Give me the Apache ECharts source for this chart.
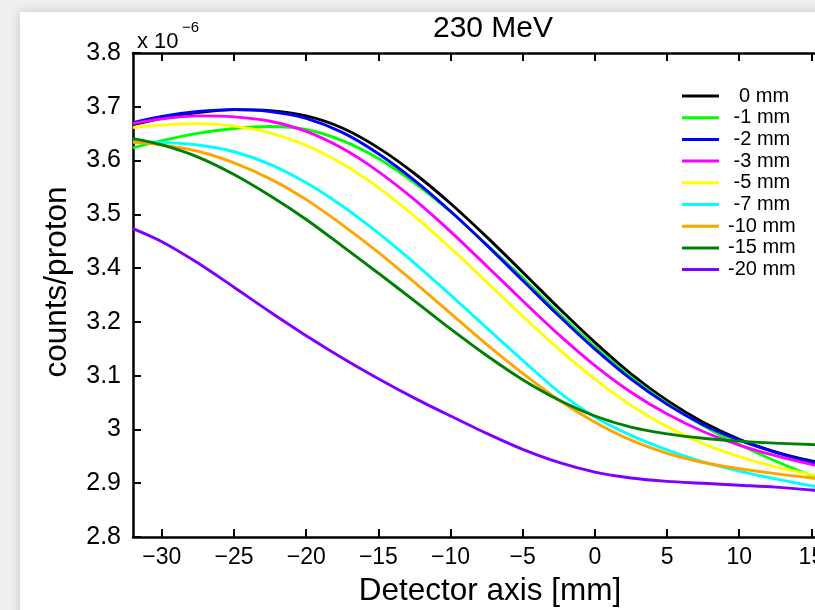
<!DOCTYPE html>
<html>
<head>
<meta charset="utf-8">
<script src="https://cdn.jsdelivr.net/npm/echarts@6/dist/echarts.min.js"></script>
<style>html,body{margin:0;padding:0;background:#efefef;overflow:hidden;width:815px;height:610px;}#c{width:880px;height:610px;}</style>
</head>
<body>
<div id="c"></div>
<script>
// Detector axis positions [mm]
const xValues = [-32, -30, -27.5, -25, -22.5, -20, -17.5, -15, -12.5, -10, -7.5, -5, -2.5, 0, 2.5, 5, 7.5, 10, 12.5, 15, 17.5];
// counts/proton (x 10^-6)
const s0mm   = [3.652,3.665,3.677,3.683,3.681,3.670,3.645,3.604,3.551,3.489,3.420,3.347,3.273,3.202,3.137,3.082,3.037,3.002,2.976,2.957,2.943];
const s1mm   = [3.604,3.619,3.634,3.644,3.648,3.642,3.619,3.582,3.532,3.472,3.404,3.335,3.262,3.193,3.130,3.076,3.030,2.991,2.957,2.927,2.902];
const s2mm   = [3.656,3.669,3.679,3.683,3.679,3.665,3.636,3.592,3.537,3.473,3.403,3.330,3.257,3.188,3.126,3.074,3.032,3.000,2.975,2.955,2.940];
const s3mm   = [3.654,3.664,3.670,3.668,3.659,3.638,3.603,3.555,3.497,3.431,3.360,3.288,3.218,3.154,3.099,3.054,3.018,2.990,2.968,2.950,2.935];
const s5mm   = [3.646,3.651,3.654,3.649,3.635,3.609,3.571,3.522,3.463,3.397,3.327,3.256,3.188,3.126,3.072,3.028,2.993,2.966,2.945,2.929,2.916];
const s7mm   = [3.616,3.615,3.610,3.596,3.570,3.532,3.484,3.428,3.366,3.300,3.232,3.165,3.100,3.048,3.010,2.980,2.955,2.936,2.920,2.906,2.895];
const s10mm  = [3.616,3.610,3.597,3.573,3.540,3.497,3.445,3.388,3.326,3.262,3.198,3.138,3.083,3.037,3.000,2.973,2.954,2.941,2.931,2.922,2.915];
const s15mm  = [3.623,3.610,3.585,3.549,3.505,3.456,3.401,3.345,3.288,3.230,3.175,3.125,3.083,3.050,3.027,3.013,3.004,2.998,2.994,2.991,2.989];
const s20mm  = [3.437,3.410,3.366,3.316,3.265,3.216,3.170,3.127,3.087,3.050,3.014,2.981,2.954,2.934,2.922,2.915,2.911,2.907,2.903,2.897,2.891];

const seriesNames = ['  0 mm', ' -1 mm', ' -2 mm', ' -3 mm', ' -5 mm', ' -7 mm', '-10 mm', '-15 mm', '-20 mm'];
const seriesValues = [s0mm, s1mm, s2mm, s3mm, s5mm, s7mm, s10mm, s15mm, s20mm];
const seriesColors = ['#000000', '#00ff00', '#0000ff', '#ff00ff', '#ffff00', '#00ffff', '#ffa500', '#008000', '#8000ff'];

const xTickValues = [-30, -25, -20, -15, -10, -5, 0, 5, 10, 15];
const yTickValues = [2.8, 2.9111, 3.0222, 3.1333, 3.2444, 3.3556, 3.4667, 3.5778, 3.6889, 3.8];
const yTickLabels = ['2.8', '2.9', '3', '3.1', '3.2', '3.4', '3.5', '3.6', '3.7', '3.8'];

const FONT = 'Liberation Sans, Arial, Helvetica, sans-serif';
const chart = echarts.init(document.getElementById('c'), null, {renderer: 'canvas'});

const series = seriesValues.map((vals, i) => ({
  name: seriesNames[i],
  type: 'line',
  xAxisIndex: 0,
  yAxisIndex: 0,
  data: xValues.map((x, j) => [x, vals[j]]),
  smooth: 0.3,
  showSymbol: false,
  symbol: 'none',
  lineStyle: {color: seriesColors[i], width: 2.9},
  itemStyle: {color: seriesColors[i]},
  z: 2,
  animation: false
}));

const option = {
  backgroundColor: 'transparent',
  animation: false,
  graphic: [
    {type: 'rect', z: -10, shape: {x: 20, y: 12, width: 900, height: 620},
     style: {fill: '#ffffff', shadowBlur: 10, shadowColor: 'rgba(0,0,0,0.18)', shadowOffsetX: 0, shadowOffsetY: 0}},
    {type: 'text', x: 493, y: 29, style: {text: '230 MeV', font: '30px ' + FONT, fill: '#000', align: 'center', verticalAlign: 'middle'}},
    {type: 'text', x: 137, y: 42, style: {text: 'x 10', font: '22px ' + FONT, fill: '#000', align: 'left', verticalAlign: 'middle'}},
    {type: 'text', x: 182, y: 28, style: {text: '−6', font: '15px ' + FONT, fill: '#000', align: 'left', verticalAlign: 'middle'}},
    {type: 'text', x: 490, y: 591, style: {text: 'Detector axis [mm]', font: '31.5px ' + FONT, fill: '#000', align: 'center', verticalAlign: 'middle'}},
    {type: 'text', x: 57, y: 282, rotation: Math.PI / 2, style: {text: 'counts/proton', font: '31.5px ' + FONT, fill: '#000', align: 'center', verticalAlign: 'middle'}}
  ],
  legend: {
    orient: 'vertical',
    left: 682,
    top: 86,
    padding: 0,
    itemGap: 1.7,
    itemWidth: 37,
    itemHeight: 3,
    icon: 'rect',
    data: seriesNames,
    textStyle: {fontFamily: FONT, fontSize: 20, color: '#000', lineHeight: 20, padding: [0, 0, 0, 4]},
    selectedMode: false
  },
  grid: {left: 133, top: 53, bottom: 73, right: 32.5, containLabel: false},
  xAxis: [
    {
      type: 'value', min: -32, max: 17.5, position: 'bottom',
      axisLine: {show: true, onZero: false, lineStyle: {color: '#000', width: 2.5}},
      axisTick: {show: true, inside: true, length: 8, lineStyle: {color: '#000', width: 2}, customValues: xTickValues},
      axisLabel: {show: true, customValues: xTickValues, margin: 9, color: '#000', fontFamily: FONT, fontSize: 23,
        formatter: v => String(v).replace('-', '−')},
      splitLine: {show: false}
    },
    {
      type: 'value', min: -32, max: 17.5, position: 'top',
      axisLine: {show: true, onZero: false, lineStyle: {color: '#000', width: 2.5}},
      axisTick: {show: true, inside: true, length: 8, lineStyle: {color: '#000', width: 2}, customValues: xTickValues},
      axisLabel: {show: false},
      splitLine: {show: false}
    }
  ],
  yAxis: [
    {
      type: 'value', min: 2.8, max: 3.8, position: 'left',
      axisLine: {show: true, onZero: false, lineStyle: {color: '#000', width: 2.5}},
      axisTick: {show: true, inside: true, length: 8, lineStyle: {color: '#000', width: 2}, customValues: yTickValues},
      axisLabel: {show: true, customValues: yTickValues, margin: 12, color: '#000', fontFamily: FONT, fontSize: 25,
        formatter: v => {
          let best = 0, bd = 1e9;
          yTickValues.forEach((t, k) => { const d = Math.abs(t - v); if (d < bd) { bd = d; best = k; } });
          return yTickLabels[best];
        }},
      splitLine: {show: false}
    }
  ],
  series: series
};
chart.setOption(option);
</script>
</body>
</html>
